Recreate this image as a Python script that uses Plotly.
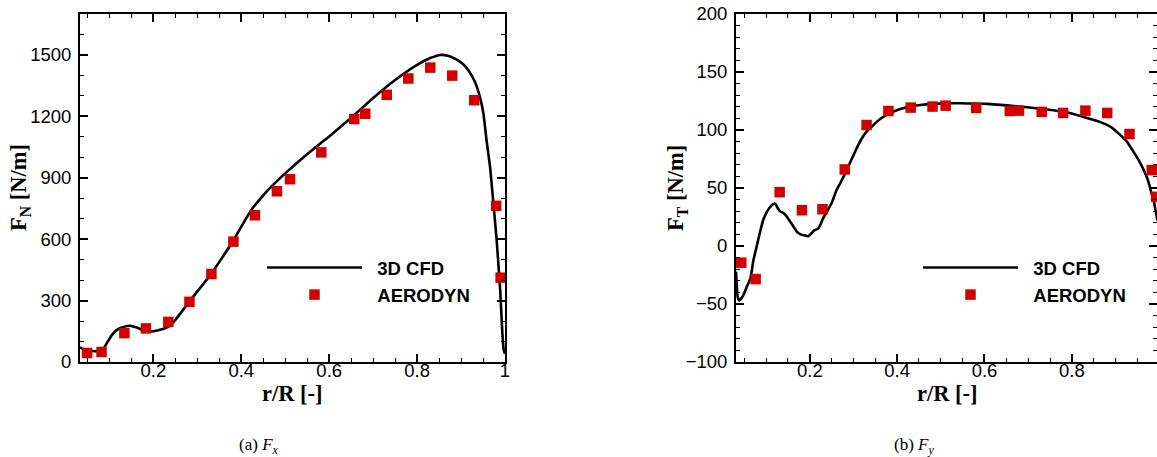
import plotly.graph_objects as go

# ---------------- data ----------------
# (a) normal force, 3D CFD curve
r_cfd_n = [0.033, 0.045, 0.06, 0.075, 0.085, 0.095, 0.105, 0.117, 0.13, 0.147,
           0.162, 0.177, 0.19, 0.2, 0.215, 0.23, 0.24, 0.25, 0.263, 0.276,
           0.3, 0.328, 0.355, 0.381, 0.405, 0.426, 0.449, 0.47, 0.49, 0.52,
           0.55, 0.58, 0.6, 0.65, 0.7, 0.75, 0.8, 0.83, 0.853, 0.87,
           0.887, 0.903, 0.917, 0.932, 0.943, 0.951, 0.958, 0.966, 0.973, 0.981,
           0.989, 0.994, 0.997, 1.0]
fn_cfd = [72, 58, 54, 53, 60, 95, 130, 157, 170, 177,
          168, 156, 150, 150, 157, 168, 180, 206, 242, 279,
          345, 420, 505, 590, 680, 752, 812, 860, 902, 960,
          1015, 1068, 1102, 1193, 1290, 1378, 1452, 1485, 1500, 1496,
          1481, 1458, 1424, 1367, 1294, 1213, 1083, 953, 790, 596,
          352, 141, 60, 40]

# (a) normal force, AERODYN
r_aero_n = [0.049, 0.082, 0.134, 0.183, 0.234, 0.282, 0.332, 0.382, 0.431, 0.481,
            0.511, 0.582, 0.657, 0.682, 0.731, 0.780, 0.830, 0.880, 0.930, 0.980, 0.990]
fn_aero = [44, 49, 141, 164, 196, 294, 430, 588, 717, 834,
           893, 1024, 1187, 1213, 1305, 1385, 1438, 1399, 1279, 763, 412]

# (b) tangential force, 3D CFD curve
r_cfd_t = [0.031, 0.035, 0.039, 0.047, 0.056, 0.064, 0.071, 0.078, 0.086, 0.093,
           0.101, 0.108, 0.116, 0.121, 0.126, 0.132, 0.14, 0.148, 0.155, 0.164,
           0.171, 0.179, 0.186, 0.196, 0.204, 0.21, 0.219, 0.225, 0.23, 0.24,
           0.25, 0.256, 0.261, 0.271, 0.284, 0.296, 0.307, 0.318, 0.33, 0.342,
           0.353, 0.367, 0.383, 0.402, 0.422, 0.453, 0.483, 0.515, 0.545, 0.576,
           0.606, 0.636, 0.667, 0.697, 0.728, 0.758, 0.79, 0.806, 0.833, 0.864,
           0.89, 0.91, 0.926, 0.94, 0.953, 0.964, 0.972, 0.978, 0.982, 0.988,
           0.993, 0.996]
ft_cfd = [-22, -44, -47, -43, -35, -28, -12, -1, 12, 22,
          29, 33, 36, 36.5, 33, 30, 28.5, 25, 21, 16,
          12, 10, 9.2, 8.5, 11, 13.5, 15, 19, 23.6, 30,
          37, 43, 48, 55, 65, 75, 84, 92, 98.6, 103,
          107, 111, 114.4, 117.5, 119.6, 121.5, 122.5, 123, 123, 122.8,
          122.5, 121.7, 120.7, 119.6, 118.4, 117, 115, 113.5, 110.5, 107,
          102.5, 96, 90, 82, 74, 66, 59, 52, 46, 38,
          28, 22]

# (b) tangential force, AERODYN
r_aero_t = [0.043, 0.076, 0.131, 0.182, 0.229, 0.280, 0.330, 0.380, 0.431, 0.481,
            0.511, 0.581, 0.658, 0.679, 0.731, 0.780, 0.831, 0.881, 0.932, 0.983, 0.993]
ft_aero = [-14.4, -28.5, 46.4, 30.8, 31.7, 66, 104.3, 116.4, 119.3, 120.2,
           121, 119, 116.4, 116.7, 115.6, 114.7, 116.7, 114.7, 96.5, 65.4, 42.4]

series_names = ["3D CFD", "AERODYN"]
y_titles = ["<b>F<sub>N</sub> [N/m]</b>", "<b>F<sub>T</sub> [N/m]</b>"]
x_title = "<b>r/R [-]</b>"
captions = ["(a) <i>F<sub>x</sub></i>", "(b) <i>F<sub>y</sub></i>"]

# ---------------- figure ----------------
W, H = 1157, 457
RED = "#d40000"
SANS = "Liberation Sans, Arial, sans-serif"
SERIF = "Liberation Serif, Times New Roman, serif"
PAD = "\u00a0\u00a0"  # gap between legend symbol and text

fig = go.Figure()

line_style = dict(color="black", width=2.6, shape="spline", smoothing=0.4)
marker_style = dict(symbol="square", color=RED, size=10.5, line=dict(width=0))

fig.add_trace(go.Scatter(x=r_cfd_n, y=fn_cfd, mode="lines", name=PAD + series_names[0],
                         line=line_style, xaxis="x", yaxis="y", legend="legend"))
fig.add_trace(go.Scatter(x=r_aero_n, y=fn_aero, mode="markers", name=PAD + series_names[1],
                         marker=marker_style, xaxis="x", yaxis="y", legend="legend"))
fig.add_trace(go.Scatter(x=r_cfd_t, y=ft_cfd, mode="lines", name=PAD + series_names[0],
                         line=line_style, xaxis="x2", yaxis="y2", legend="legend2"))
fig.add_trace(go.Scatter(x=r_aero_t, y=ft_aero, mode="markers", name=PAD + series_names[1],
                         marker=marker_style, xaxis="x2", yaxis="y2", legend="legend2"))

ydom = [1 - 362 / H, 1 - 14 / H]
common_ax = dict(showline=True, linecolor="black", linewidth=2, mirror="ticks",
                 ticks="inside", ticklen=8, tickwidth=1.6, tickcolor="black",
                 showgrid=False, zeroline=False, automargin=False,
                 tickfont=dict(family=SANS, size=18.5, color="black"))
minor_x = dict(ticks="inside", ticklen=4, tickwidth=1.3, tickcolor="black", dtick=0.05, tick0=0)

fig.update_layout(
    width=W, height=H, autosize=False,
    margin=dict(l=0, r=0, t=0, b=0, pad=0),
    paper_bgcolor="white", plot_bgcolor="white",
    xaxis=dict(domain=[80 / W, 505 / W], range=[0.033, 1.0], anchor="y",
               tickvals=[0.2, 0.4, 0.6, 0.8, 1.0], ticktext=["0.2", "0.4", "0.6", "0.8", "1"],
               minor=minor_x, ticklabelstandoff=-9, **common_ax),
    yaxis=dict(domain=ydom, range=[0, 1700], anchor="x", tick0=0, dtick=300,
               minor=dict(ticks="inside", ticklen=4, tickwidth=1.3, tickcolor="black", dtick=100, tick0=0),
               ticklabelstandoff=3, **common_ax),
    xaxis2=dict(domain=[736 / W, 1.0], range=[0.031, 0.995], anchor="y2",
                tickvals=[0.2, 0.4, 0.6, 0.8], ticktext=["0.2", "0.4", "0.6", "0.8"],
                minor=minor_x, ticklabelstandoff=-9, **common_ax),
    yaxis2=dict(domain=ydom, range=[-100, 200], anchor="x2", tick0=0, dtick=50,
                minor=dict(ticks="inside", ticklen=4, tickwidth=1.3, tickcolor="black", dtick=10, tick0=0),
                ticklabelstandoff=3, **common_ax),
    legend=dict(x=262 / W, y=1 - 249 / H, xanchor="left", yanchor="top",
                itemwidth=95, bgcolor="rgba(0,0,0,0)",
                font=dict(family=SANS, size=18.5, color="black", weight="bold")),
    legend2=dict(x=918 / W, y=1 - 249 / H, xanchor="left", yanchor="top",
                 itemwidth=95, bgcolor="rgba(0,0,0,0)",
                 font=dict(family=SANS, size=18.5, color="black", weight="bold")),
    showlegend=True,
)

annos = []
for xc in [(80 + 505) / 2, (736 + 1158) / 2]:
    annos.append(dict(text=x_title, x=xc / W, y=1 - 393 / H, xref="paper", yref="paper",
                      xanchor="center", yanchor="middle", showarrow=False,
                      font=dict(family=SERIF, size=22.5, color="black")))
for xc, t in zip([20, 677], y_titles):
    annos.append(dict(text=t, x=xc / W, y=1 - 188 / H, xref="paper", yref="paper",
                      xanchor="center", yanchor="middle", showarrow=False, textangle=-90,
                      font=dict(family=SERIF, size=22.5, color="black")))
for xc, t in zip([259, 914], captions):
    annos.append(dict(text=t, x=xc / W, y=1 - 446 / H, xref="paper", yref="paper",
                      xanchor="center", yanchor="middle", showarrow=False,
                      font=dict(family=SERIF, size=17, color="black")))
fig.update_layout(annotations=annos)

fig.write_html("out.html", config={"responsive": False, "displayModeBar": False},
               post_script="document.body.style.margin='0';document.body.style.padding='0';"
                           "document.documentElement.style.overflow='hidden';")
